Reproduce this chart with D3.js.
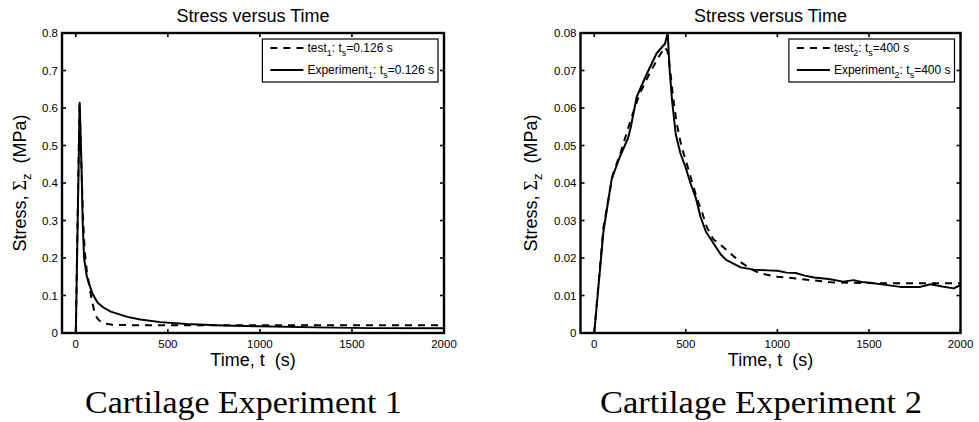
<!DOCTYPE html>
<meta charset="utf-8">
<style>
body { margin: 0; background: #fff; }
svg { display: block; }
.axis-box { fill: none; stroke: #000; stroke-width: 2.4; }
.tick-line { stroke: #000; stroke-width: 1.6; }
.tick-label { font: 11.5px "Liberation Sans", Arial, sans-serif; fill: #000; }
.title, .xlabel, .ylabel { font: 18px "Liberation Sans", Arial, sans-serif; fill: #000; white-space: pre; }
.legend-text { font: 12px "Liberation Sans", Arial, sans-serif; fill: #000; }
.caption { font: 31px "Liberation Serif", "DejaVu Serif", serif; fill: #000; }
.curve { fill: none; stroke: #000; stroke-width: 2; stroke-linejoin: round; }
.dashed { stroke-dasharray: 7,6; }
</style>
<body>
<script src="https://cdn.jsdelivr.net/npm/d3@7"></script>
<script>

// ---- data ----
var xTicks = [0, 500, 1000, 1500, 2000];
var yTicks1 = [0, 0.1, 0.2, 0.3, 0.4, 0.5, 0.6, 0.7, 0.8];
var yTicks2 = [0, 0.01, 0.02, 0.03, 0.04, 0.05, 0.06, 0.07, 0.08];

// experiment 1
var test1Time   = [0, 20, 30, 40, 48, 60, 75, 88, 100, 115, 135, 160, 200, 300, 600, 1000, 1500, 2000];
var test1Stress = [0, 0.61, 0.45, 0.30, 0.22, 0.165, 0.12, 0.085, 0.06, 0.04, 0.03, 0.025, 0.022, 0.021, 0.021, 0.021, 0.021, 0.021];
var exp1Time    = [0, 21, 32, 37, 45, 60, 90, 120, 150, 190, 280, 350, 460, 600, 800, 1000, 1300, 1600, 2000];
var exp1Stress  = [0, 0.614, 0.427, 0.30, 0.20, 0.15, 0.105, 0.08, 0.068, 0.057, 0.043, 0.036, 0.029, 0.024, 0.02, 0.018, 0.015, 0.013, 0.013];

// experiment 2
var test2Time   = [0, 50, 100, 150, 200, 250, 300, 350, 385, 400, 415, 430, 450, 475, 500, 530, 560, 590, 614, 650, 690, 724, 760, 797, 850, 906, 1000, 1088, 1200, 1300, 1500, 2000];
var test2Stress = [0, 0.028, 0.042, 0.049, 0.057, 0.064, 0.069, 0.0735, 0.0762, 0.0752, 0.07, 0.063, 0.056, 0.05, 0.046, 0.041, 0.036, 0.032, 0.0283, 0.025, 0.0235, 0.0221, 0.0205, 0.019, 0.0172, 0.0159, 0.015, 0.0146, 0.014, 0.0135, 0.0133, 0.0133];
var exp2Time    = [0, 50, 95, 140, 185, 200, 232, 286, 341, 387, 401, 412, 425, 445, 470, 500, 525, 555, 580, 610, 650, 690, 720, 760, 800, 870, 950, 1000, 1050, 1100, 1150, 1200, 1280, 1360, 1416, 1460, 1507, 1580, 1672, 1780, 1836, 1900, 1963, 2000];
var exp2Stress  = [0, 0.027, 0.041, 0.047, 0.052, 0.055, 0.063, 0.069, 0.0746, 0.0772, 0.08, 0.07, 0.062, 0.053, 0.048, 0.044, 0.040, 0.036, 0.031, 0.027, 0.024, 0.021, 0.0195, 0.0185, 0.0175, 0.0169, 0.0167, 0.0166, 0.0161, 0.016, 0.0153, 0.0148, 0.0144, 0.0137, 0.0141, 0.0136, 0.0134, 0.0129, 0.0123, 0.0123, 0.013, 0.0124, 0.0119, 0.0128];

var W = 979, H = 422;

var svg = d3.select("body").append("svg")
  .attr("width", W)
  .attr("height", H);

function zip(t, v) {
  return t.map(function(d, i) { return {t: d, v: v[i]}; });
}

// add text made of pieces, some of them subscript
function richText(sel, parts, subSize, shift) {
  var back = 0;
  parts.forEach(function(p) {
    var ts = sel.append("tspan").text(p.s);
    if (p.sub) {
      ts.attr("dy", shift).style("font-size", subSize);
      back = -shift;
    } else {
      if (back) { ts.attr("dy", back); back = 0; }
      if (p.family) ts.style("font-family", p.family);
    }
  });
}

function panel(o) {
  var g = svg.append("g").attr("transform", "translate(" + o.left + ",33)");
  var w = o.width, h = 300;

  var x = d3.scaleLinear().domain([-75, 2000]).range([0, w]);
  var y = d3.scaleLinear().domain([0, o.yMax]).range([h, 0]);

  var line = d3.line()
    .x(function(d) { return x(d.t); })
    .y(function(d) { return y(d.v); });

  // ticks inside, on all four sides
  xTicks.forEach(function(t) {
    g.append("line").attr("class", "tick-line")
      .attr("x1", x(t)).attr("x2", x(t)).attr("y1", h).attr("y2", h - 4);
    g.append("line").attr("class", "tick-line")
      .attr("x1", x(t)).attr("x2", x(t)).attr("y1", 0).attr("y2", 4);
    g.append("text").attr("class", "tick-label")
      .attr("x", x(t)).attr("y", h + 15)
      .attr("text-anchor", "middle")
      .text(t);
  });
  o.yTicks.forEach(function(v) {
    g.append("line").attr("class", "tick-line")
      .attr("x1", 0).attr("x2", 4).attr("y1", y(v)).attr("y2", y(v));
    g.append("line").attr("class", "tick-line")
      .attr("x1", w).attr("x2", w - 4).attr("y1", y(v)).attr("y2", y(v));
    g.append("text").attr("class", "tick-label")
      .attr("x", -4).attr("y", y(v) + 4)
      .attr("text-anchor", "end")
      .text(v);
  });

  g.append("path").attr("class", "curve dashed")
    .attr("d", line(zip(o.testT, o.testV)));
  g.append("path").attr("class", "curve")
    .attr("d", line(zip(o.expT, o.expV)));

  g.append("rect").attr("class", "axis-box")
    .attr("width", w).attr("height", h);

  // title and axis labels
  g.append("text").attr("class", "title")
    .attr("x", w / 2).attr("y", -11)
    .attr("text-anchor", "middle")
    .text("Stress versus Time");

  g.append("text").attr("class", "xlabel")
    .attr("x", w / 2).attr("y", h + 33)
    .attr("text-anchor", "middle")
    .text("Time, t  (s)");

  var yl = g.append("text").attr("class", "ylabel")
    .attr("transform", "translate(" + o.ylabX + "," + (h / 2) + ") rotate(-90)")
    .attr("text-anchor", "middle");
  richText(yl, [{s: "Stress, "}, {s: "\u03A3", family: "'Liberation Serif', serif"}, {s: "z", sub: true}, {s: "  (MPa)"}], "13px", 5);

  // legend
  var lg = g.append("g");
  var rows = [
    {cls: "curve dashed", parts: [{s: "test"}, {s: o.n, sub: true}, {s: ": t"}, {s: "s", sub: true}, {s: "=" + o.ts + " s"}]},
    {cls: "curve", parts: [{s: "Experiment"}, {s: o.n, sub: true}, {s: ": t"}, {s: "s", sub: true}, {s: "=" + o.ts + " s"}]}
  ];
  var maxW = 0;
  var texts = rows.map(function(r, i) {
    var tx = lg.append("text").attr("class", "legend-text")
      .attr("y", 13 + i * 22);
    richText(tx, r.parts, "9px", 4);
    maxW = Math.max(maxW, tx.node().getComputedTextLength());
    return tx;
  });
  var boxW = 45 + maxW + 4;
  var bx = w - 6 - boxW, by = 6;
  lg.attr("transform", "translate(" + bx + "," + by + ")");
  lg.insert("rect", ":first-child")
    .attr("width", boxW).attr("height", 43)
    .attr("fill", "#fff").attr("stroke", "#000").attr("stroke-width", 1.2);
  rows.forEach(function(r, i) {
    lg.append("line").attr("class", r.cls)
      .attr("x1", 8).attr("x2", 41)
      .attr("y1", 9 + i * 22).attr("y2", 9 + i * 22);
    texts[i].attr("x", 45);
  });

  // caption, stretched sideways to the width of the original serif face
  var cap = g.append("text").attr("class", "caption")
    .attr("text-anchor", "middle")
    .text(o.caption);
  var k = o.capLen / cap.node().getComputedTextLength();
  cap.attr("transform", "translate(" + (w / 2 - 9.5) + ",380) scale(" + k + ",1)");
}

panel({
  left: 62, width: 382, yMax: 0.8, yTicks: yTicks1, ylabX: -36,
  testT: test1Time, testV: test1Stress, expT: exp1Time, expV: exp1Stress,
  n: "1", ts: "0.126", caption: "Cartilage Experiment 1", capLen: 317
});

panel({
  left: 580.5, width: 380, yMax: 0.08, yTicks: yTicks2, ylabX: -43.5,
  testT: test2Time, testV: test2Stress, expT: exp2Time, expV: exp2Stress,
  n: "2", ts: "400", caption: "Cartilage Experiment 2", capLen: 322
});

</script>
</body>
